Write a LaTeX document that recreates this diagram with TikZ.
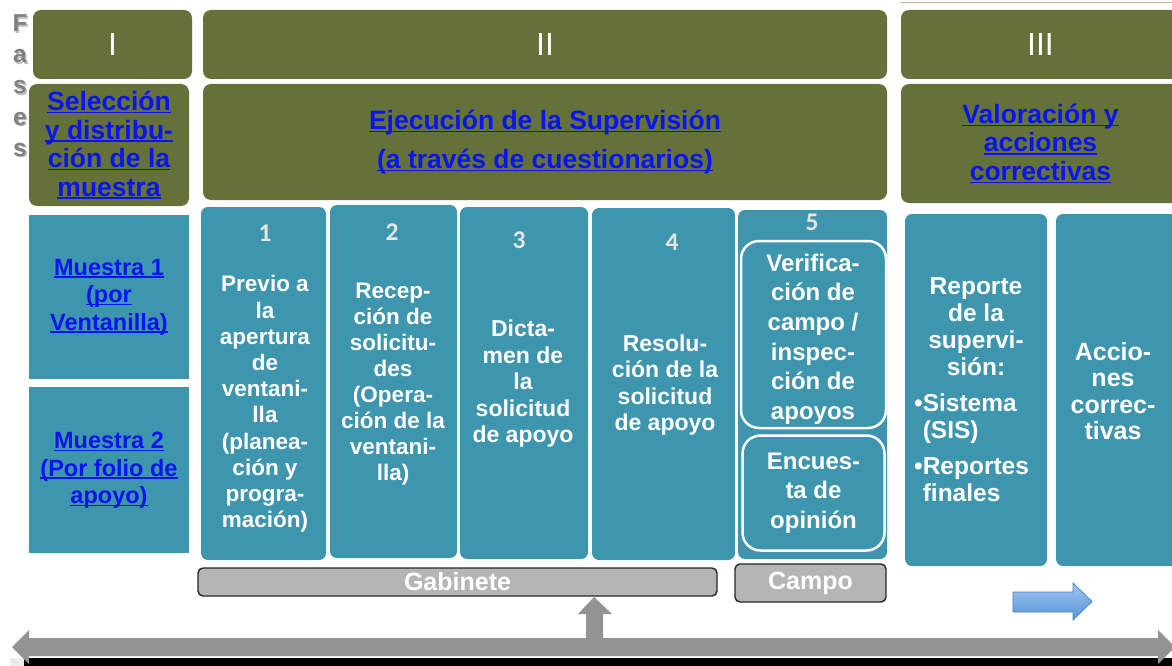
\documentclass[tikz,border=0pt]{standalone}
\usepackage{fontspec}
\setmainfont{Liberation Sans}
\newfontfamily\numfont{Carlito}
\usetikzlibrary{positioning}
\definecolor{sup_olive}{RGB}{100,113,57}
\definecolor{sup_teal}{RGB}{61,150,173}
\definecolor{sup_link}{RGB}{10,20,240}
\definecolor{sup_bar}{RGB}{181,181,181}
\definecolor{sup_arrow}{RGB}{147,147,147}
\definecolor{sup_fases}{RGB}{128,128,128}
\definecolor{sup_bluetop}{RGB}{160,198,242}
\definecolor{sup_bluebot}{RGB}{88,148,218}
\definecolor{sup_blueedge}{RGB}{79,129,189}
\definecolor{sup_line}{RGB}{190,182,150}
\newsavebox\lnkbox
\newcommand{\lnk}[1]{\sbox\lnkbox{#1}\rlap{\usebox\lnkbox}\rule[-2.6pt]{\wd\lnkbox}{1.4pt}}

\begin{document}
\begin{tikzpicture}[x=1pt, y=-1pt,
    fase/.style={fill=sup_olive, rounded corners=8pt, inner sep=0pt},
    tealbox/.style={fill=sup_teal, rounded corners=7pt, inner sep=0pt},
    sqbox/.style={fill=sup_teal, inner sep=0pt},
    outline/.style={draw=white, line width=2.5pt, rounded corners=18pt, inner sep=0pt},
    roman/.style={text=white, font=\fontsize{32}{36}\selectfont},
    link/.style={text=sup_link, align=center, font=\fontsize{26.5}{28.5}\selectfont\bfseries},
    sample/.style={text=sup_link, align=center, font=\fontsize{23.5}{27.5}\selectfont\bfseries},
    coltext/.style={text=white, align=center, inner sep=0pt, font=\fontsize{23}{26.5}\selectfont\bfseries},
    num/.style={text=white!90!black, inner sep=0pt, font=\numfont\bfseries\fontsize{25.5}{27}\selectfont},
    bar/.style={draw=black!85, fill=sup_bar, line width=1.4pt, rounded corners=5pt,
                text=white, inner sep=0pt, font=\fontsize{25}{28}\selectfont\bfseries},
    fasetext/.style={text=sup_fases, inner sep=0pt, font=\fontsize{24.5}{26}\selectfont\bfseries}]
  \useasboundingbox (0,0) rectangle (1172,666);

  % timeline at the bottom
  \fill[black!8] (10,658) rectangle (24,666);
  \fill[black] (24,658) rectangle (1172,666);
  \fill[sup_arrow] (12,647) -- (29,630) -- (29,638) -- (586,638) -- (586,614) -- (578,614)
    -- (594,597) -- (612,614) -- (603,614) -- (603,638) -- (1158,638) -- (1158,630)
    -- (1175,647) -- (1158,664) -- (1158,656) -- (29,656) -- (29,664) -- cycle;
  \path[draw=sup_blueedge, line width=0.8pt, top color=sup_bluetop, bottom color=sup_bluebot]
    (1013,592) -- (1073,592) -- (1073,583) -- (1092,601.5) -- (1073,620) -- (1073,612)
    -- (1013,612) -- cycle;
  \draw[sup_line, line width=1pt] (901,3) -- (1172,3);

  % Fases
  \foreach \l/\y in {F/32,a/63,s/94,e/125,s/156}{
    \node[fasetext, text=black!25, anchor=base] (fs\y) at (21.5,\y+1.5) {\l};
    \node[fasetext, anchor=base] (f\y) at (20,\y) {\l};
  }

  % phases
  \node[fase, roman, minimum width=159pt, minimum height=69pt] (ph1) at (112.5,44.5) {I};
  \node[fase, roman, minimum width=684pt, minimum height=69pt] (ph2) at (545,44.5) {II};
  \node[fase, roman, minimum width=279pt, minimum height=69pt] (ph3) at (1040.5,44.5) {III};

  \node[fase, link, minimum width=160pt, minimum height=122pt] (sel) at (109,145)
    {\lnk{Selección}\\\lnk{y distribu-}\\\lnk{ción de la}\\\lnk{muestra}};
  \node[fase, link, minimum width=684pt, minimum height=116pt] (eje) at (545,142)
    {\lnk{Ejecución de la Supervisión}\\[10.5pt]\lnk{(a través de cuestionarios)}};
  \node[fase, link, minimum width=279pt, minimum height=119pt] (val) at (1040.5,143.5)
    {\lnk{Valoración y}\\\lnk{acciones}\\\lnk{correctivas}};

  % samples
  \node[sqbox, sample, minimum width=160pt, minimum height=164pt] (mu1) at (109,297)
    {\lnk{Muestra 1}\\\lnk{(por}\\\lnk{Ventanilla)}};
  \node[sqbox, sample, minimum width=160pt, minimum height=166pt, below=8pt of mu1] (mu2)
    {\lnk{Muestra 2}\\\lnk{(Por folio de}\\\lnk{apoyo)}};

  % steps
  \node[tealbox, minimum width=125pt, minimum height=353pt] (c1) at (263.5,383.5) {};
  \node[tealbox, minimum width=127pt, minimum height=353pt] (c2) at (393.5,381.5) {};
  \node[tealbox, minimum width=128pt, minimum height=352pt] (c3) at (524,383) {};
  \node[tealbox, minimum width=143pt, minimum height=352pt] (c4) at (663.5,384) {};
  \node[tealbox, minimum width=149pt, minimum height=349pt] (c5) at (812.5,384.5) {};
  \node[tealbox, minimum width=142pt, minimum height=352pt] (rep) at (976,390) {};
  \node[tealbox, minimum width=124pt, minimum height=352pt] (acc) at (1118,390) {};

  \node[num] (n1) at (265,233) {1};
  \node[num] (n2) at (392,232) {2};
  \node[num] (n3) at (519,240) {3};
  \node[num] (n4) at (672,242) {4};
  \node[num] (n5) at (812,222) {5};

  \node[coltext, font=\fontsize{22.5}{26.2}\selectfont\bfseries] (t1) at (265,404)
    {Previo a\\la\\apertura\\de\\ventani-\\lla\\(planea-\\ción y\\progra-\\mación)};
  \node[coltext, font=\fontsize{22.5}{26}\selectfont\bfseries] (t2) at (393,384)
    {Recep-\\ción de\\solicitu-\\des\\(Opera-\\ción de la\\ventani-\\lla)};
  \node[coltext] (t3) at (523,384) {Dicta-\\men de\\la\\solicitud\\de apoyo};
  \node[coltext] (t4) at (665,385) {Resolu-\\ción de la\\solicitud\\de apoyo};

  \node[outline, minimum width=145pt, minimum height=187pt] (v5a) at (813.5,334.5) {};
  \node[coltext, font=\fontsize{24}{29.6}\selectfont\bfseries] (t5a) at (813,339)
    {Verifica-\\ción de\\campo /\\inspec-\\ción de\\apoyos};
  \node[outline, coltext, font=\fontsize{24}{29.6}\selectfont\bfseries,
        minimum width=142pt, minimum height=115pt, below=5pt of v5a] (v5b)
    {Encues-\\ta de\\opinión};

  \node[coltext, font=\fontsize{24.5}{27}\selectfont\bfseries] (reptitle) at (976,327)
    {Reporte\\de la\\supervi-\\sión:};
  \node[coltext, align=left, anchor=north west, font=\fontsize{24.5}{27}\selectfont\bfseries]
    (replist) at (914,394)
    {•Sistema\\\hphantom{•}(SIS)\\[9pt]•Reportes\\\hphantom{•}finales};
  \node[coltext, font=\fontsize{25}{26.5}\selectfont\bfseries] (acct) at (1113,391)
    {Accio-\\nes\\correc-\\tivas};

  % places
  \node[bar, minimum width=519pt, minimum height=28pt] (gab) at (457.5,582) {Gabinete};
  \node[bar, minimum width=151pt, minimum height=38pt] (cam) at (810.5,583) {Campo};
\end{tikzpicture}
\end{document}
